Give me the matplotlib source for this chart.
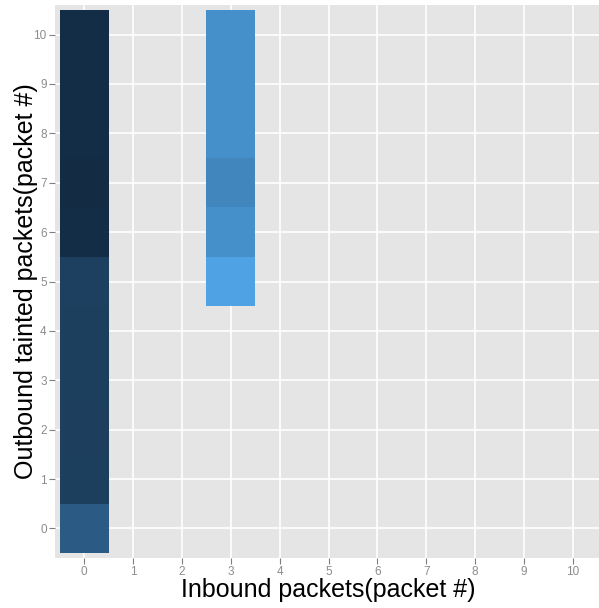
import numpy as np
import matplotlib
matplotlib.use("Agg")
import matplotlib.pyplot as plt
from matplotlib.colors import LinearSegmentedColormap

# tile data: inbound packets (x), outbound tainted packets (y), count
inbound = [0, 0, 0, 0, 0, 0, 0, 0, 0, 0, 0,
           3, 3, 3, 3, 3, 3]
outbound = [0, 1, 2, 3, 4, 5, 6, 7, 8, 9, 10,
            5, 6, 7, 8, 9, 10]
count = [38, 16, 15, 16, 16, 17, 2, 0, 2, 2, 2,
         90, 76, 70, 76, 76, 76]
ticks = list(range(11))


def main():
    grid = np.full((11, 11), np.nan)
    for xi, yi, c in zip(inbound, outbound, count):
        grid[yi, xi] = c
    grid = np.ma.masked_invalid(grid)

    cmap = LinearSegmentedColormap.from_list("gg", ["#132B43", "#336A98", "#56B1F7"])
    plt.rcParams["font.family"] = ["Liberation Sans", "DejaVu Sans"]

    fig = plt.figure(figsize=(5.99, 6.08), dpi=100)
    ax = fig.add_axes([55 / 599, 50 / 608, 547 / 599, 553 / 608])
    ax.set_facecolor("#e5e5e5")
    edges = np.arange(-0.5, 11.0, 1.0)
    ax.pcolormesh(edges, edges, grid, cmap=cmap, vmin=0, vmax=100, zorder=2)

    ax.set_xlim(-0.6, 10.6)
    ax.set_ylim(-0.6, 10.6)
    ax.set_xticks(ticks)
    ax.set_yticks(ticks)
    ax.grid(which="major", color="white", lw=1.2, zorder=0)
    ax.set_axisbelow(True)
    for s in ax.spines.values():
        s.set_visible(False)
    ax.tick_params(which="major", colors="#7f7f7f", labelcolor="#8c8c8c",
                   labelsize=8.5, length=4, width=0.8, pad=2)

    ax.set_xlabel("Inbound packets(packet #)", fontsize=18, labelpad=0)
    ax.set_ylabel("Outbound tainted packets(packet #)", fontsize=18, labelpad=-3)

    fig.savefig("out.png", dpi=100)
    plt.close()


if __name__ == "__main__":
    main()
